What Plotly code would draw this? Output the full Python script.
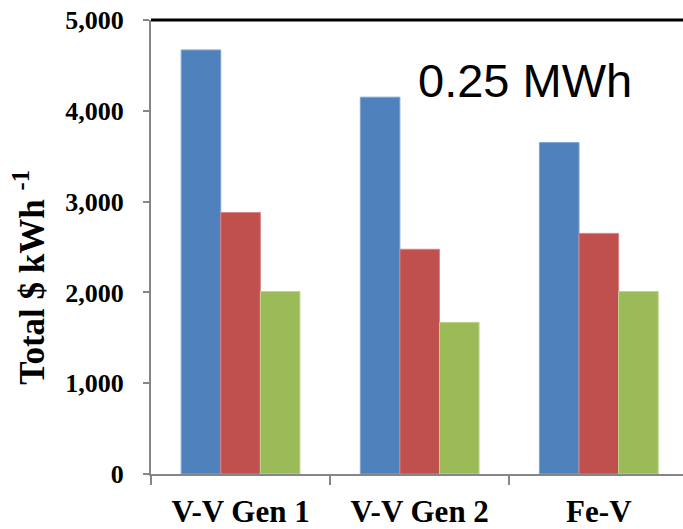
import plotly.graph_objects as go

categories = ["V-V Gen 1", "V-V Gen 2", "Fe-V"]
series_blue = [4670, 4150, 3650]
series_red = [2880, 2475, 2650]
series_green = [2010, 1670, 2010]
y_ticks = [0, 1000, 2000, 3000, 4000, 5000]
y_tick_labels = ["0", "1,000", "2,000", "3,000", "4,000", "5,000"]

colors = ["#4F81BD", "#C0504D", "#9BBB59"]
edges = ["#7FA3D3", "#D98583", "#BCD48E"]

fig = go.Figure()
for vals, c, e in zip([series_blue, series_red, series_green], colors, edges):
    fig.add_trace(go.Bar(x=categories, y=vals, marker=dict(color=c, line=dict(color=e, width=1)),
                         showlegend=False))

W, H = 683, 529
L, R, T, B = 151, 0, 20, 51

fig.update_layout(
    width=W, height=H,
    margin=dict(l=L, r=R, t=T, b=B),
    paper_bgcolor="white", plot_bgcolor="white",
    barmode="group", bargap=0.337, bargroupgap=0,
    xaxis=dict(
        range=[-0.5, 2.47], showgrid=False, showline=True, linecolor="#868686", linewidth=2,
        ticks="outside", tickson="boundaries", ticklen=9, tickcolor="#868686", tickwidth=1.5,
        tickfont=dict(family="Liberation Serif", size=31, color="black", weight="bold"),
        ticklabelstandoff=9,
    ),
    yaxis=dict(
        range=[0, 5000], tickvals=y_ticks, ticktext=y_tick_labels, showgrid=False,
        showline=True, linecolor="#868686", linewidth=2, zeroline=False,
        ticks="outside", ticklen=6, tickcolor="#868686", tickwidth=1.5,
        tickfont=dict(family="Liberation Serif", size=26, color="black", weight="bold"),
        ticklabelstandoff=14,
    ),
    shapes=[dict(type="line", xref="paper", yref="paper", x0=0, x1=1, y0=1, y1=1,
                 line=dict(color="black", width=3))],
    annotations=[
        dict(text="0.25 MWh", xref="paper", yref="paper",
             x=(525 - L) / (W - L - R), y=1 - (81 - T) / (H - T - B),
             showarrow=False, xanchor="center", yanchor="middle",
             font=dict(family="Liberation Sans", size=47, color="black")),
        dict(text="Total $ kWh <sup>-1</sup>", xref="paper", yref="paper",
             x=(30 - L) / (W - L - R), y=1 - (280 - T) / (H - T - B),
             showarrow=False, xanchor="center", yanchor="middle", textangle=-90,
             font=dict(family="Liberation Serif", size=35, color="black", weight="bold")),
    ],
)

fig.write_html("out.html")
